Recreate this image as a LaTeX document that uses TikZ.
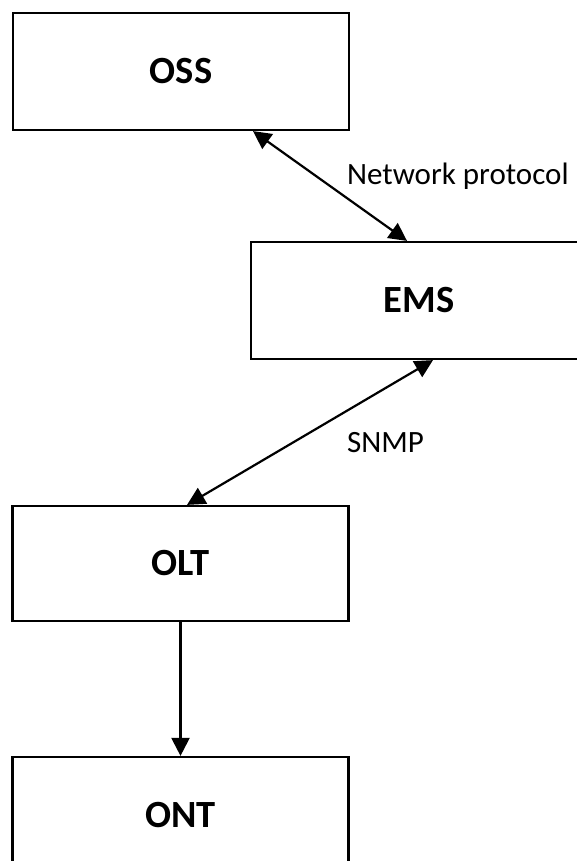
\documentclass[tikz,border=0pt]{standalone}
\usepackage{fontspec}
\setmainfont{Carlito}
\usetikzlibrary{arrows.meta}

\begin{document}
\begin{tikzpicture}[x=1pt, y=-1pt, line width=2.2pt,
	unit/.style={draw, minimum width=336pt, minimum height=117pt, inner sep=0pt, font=\fontsize{38.5}{46}\selectfont\bfseries},
	note/.style={inner sep=0pt, anchor=base west, font=\fontsize{31}{37}\selectfont},
	>={Triangle[length=18pt,width=18pt]}]
	\useasboundingbox (0,0) rectangle (576,861);
	\node[unit] (oss) at (181,71.5) {OSS};
	\node[unit] (ems) at (419,300.5) {EMS};
	\node[unit, minimum height=115pt] (olt) at (180.5,563.5) {OLT};
	\node[unit, minimum height=115pt] (ont) at (180.5,814.5) {ONT};
	\draw [<->] ([xshift=72pt]oss.south) -- ([xshift=-12pt]ems.north);
	\draw [<->] ([xshift=14pt]ems.south) -- ([xshift=6.5pt]olt.north);
	\draw [->] (olt.south) -- (ont.north);
	\node[note] (proto) at (346,185) {Network protocol};
	\node[note] (snmp) at (346,452) {SNMP};
\end{tikzpicture}
\end{document}
